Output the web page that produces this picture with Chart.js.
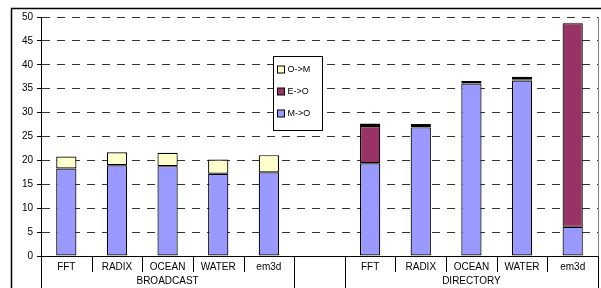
<!DOCTYPE html>
<html>
<head>
<meta charset="utf-8">
<script src="https://cdn.jsdelivr.net/npm/chart.js@4.4.1/dist/chart.umd.min.js"></script>
<style>
  html, body { margin: 0; padding: 0; background: #fff; }
  #wrap { width: 601px; height: 288px; position: relative; }
</style>
</head>
<body>
<div id="wrap"><canvas id="chart"></canvas></div>
<script>
// categories, with an empty slot between the two groups
const categories = ["FFT","RADIX","OCEAN","WATER","em3d","","FFT","RADIX","OCEAN","WATER","em3d"];
const groups = ["BROADCAST","DIRECTORY"];
const groupFirst = [0, 6];
const groupLast = [4, 10];

const mToO = [18.3, 19.0, 18.8, 17.2, 17.5, null, 19.4, 26.9, 36.1, 36.7, 6.1];
const eToO = [null, null, null, null, null, null, 7.8, 0.3, 0.3, 0.3, 42.6];
const oToM = [2.5, 2.7, 2.8, 3.0, 3.6, null, 0.5, 0.4, 0.2, 0.5, 0.1];

const yTicks = [0, 5, 10, 15, 20, 25, 30, 35, 40, 45, 50];

const FONT = "Liberation Sans, Arial, sans-serif";

const frame = {
  id: "frame",
  afterDraw(chart) {
    const ctx = chart.ctx, a = chart.chartArea, x = chart.scales.x;
    const H = chart.height;
    ctx.save();
    ctx.strokeStyle = "#000";
    // outer frame
    ctx.lineWidth = 1.5;
    ctx.beginPath();
    ctx.moveTo(11.5, H + 2); ctx.lineTo(11.5, 8.5); ctx.lineTo(chart.width + 2, 8.5);
    ctx.stroke();
    // right border of plot
    ctx.lineWidth = 1;
    ctx.strokeStyle = "#808080";
    ctx.beginPath();
    ctx.moveTo(Math.round(a.right) + 0.5, a.top); ctx.lineTo(Math.round(a.right) + 0.5, H);
    ctx.stroke();
    // category separators below the axis
    ctx.strokeStyle = "#000";
    const half = (x.getPixelForValue(1) - x.getPixelForValue(0)) / 2;
    for (let i = -1; i < categories.length; i++) {
      const px = Math.round(x.getPixelForValue(Math.max(i, 0)) + (i < 0 ? -half : half)) + 0.5;
      const full = i === -1 || i === categories.length - 1 ||
        groupLast.includes(i) || groupFirst.includes(i + 1);
      ctx.beginPath();
      ctx.moveTo(px, a.bottom);
      ctx.lineTo(px, full ? H : a.bottom + 16);
      ctx.stroke();
    }
    // group labels
    ctx.fillStyle = "#000";
    ctx.font = "10px " + FONT;
    ctx.textAlign = "center";
    ctx.textBaseline = "middle";
    groups.forEach((g, k) => {
      const cx = (x.getPixelForValue(groupFirst[k]) + x.getPixelForValue(groupLast[k])) / 2;
      ctx.fillText(g, cx, a.bottom + 25);
    });
    // legend (reverse order, like the stacked bars)
    const lx = 273.5, ly = 56.5, lw = 49, lh = 74;
    ctx.fillStyle = "#fff";
    ctx.fillRect(lx, ly, lw, lh);
    ctx.strokeRect(lx, ly, lw, lh);
    ctx.font = "9px " + FONT;
    ctx.textAlign = "left";
    const ds = chart.data.datasets.slice().reverse();
    ds.forEach((d, k) => {
      const cy = ly + 13 + k * 22;
      ctx.fillStyle = d.backgroundColor;
      ctx.fillRect(lx + 4, cy - 3.5, 7, 7);
      ctx.strokeRect(lx + 4, cy - 3.5, 7, 7);
      ctx.fillStyle = "#000";
      ctx.fillText(d.label, lx + 14, cy + 0.5);
    });
    ctx.restore();
  }
};

new Chart(document.getElementById("chart"), {
  type: "bar",
  data: {
    labels: categories,
    datasets: [
      { label: "M->O", data: mToO, backgroundColor: "#9999FF" },
      { label: "E->O", data: eToO, backgroundColor: "#993366" },
      { label: "O->M", data: oToM, backgroundColor: "#FFFFCC" }
    ].map(d => ({ ...d, borderColor: "#000", borderWidth: 1.2, borderSkipped: false,
      categoryPercentage: 1, barPercentage: 0.4 }))
  },
  options: {
    responsive: true,
    maintainAspectRatio: false,
    animation: false,
    layout: { padding: { left: 11, right: 3, top: 17, bottom: 0 } },
    plugins: { legend: { display: false }, tooltip: { enabled: false } },
    scales: {
      x: {
        stacked: true,
        grid: { display: false, drawTicks: false, tickLength: 0 },
        border: { display: true, color: "#000", width: 1 },
        ticks: { color: "#000", font: { family: FONT, size: 10 }, padding: 5,
          maxRotation: 0, autoSkip: false },
        afterFit: s => { s.height = 32; }
      },
      y: {
        stacked: true,
        min: 0,
        max: 50,
        afterBuildTicks: s => { s.ticks = yTicks.map(v => ({ value: v })); },
        grid: { color: "#333", tickColor: "#000", tickLength: 4, tickBorderDash: [],
          tickBorderDashOffset: 0 },
        border: { display: true, color: "#000", width: 1, dash: [8, 7] },
        ticks: { color: "#000", font: { family: FONT, size: 10 }, padding: 4 },
        afterFit: s => { s.width = 30; }
      }
    }
  },
  plugins: [frame]
});
</script>
</body>
</html>
